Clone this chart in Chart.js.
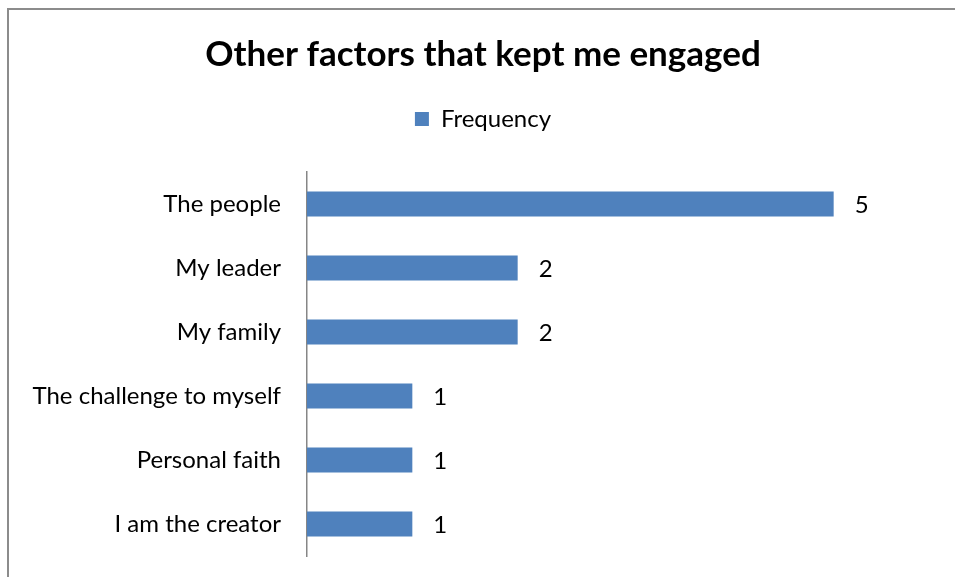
<!DOCTYPE html>
<html>
<head>
<meta charset="utf-8">
<script src="https://cdn.jsdelivr.net/npm/chart.js@4.4.0/dist/chart.umd.min.js"></script>
<style>
  html, body { margin: 0; padding: 0; background: #fff; }
  #wrap { width: 955px; height: 577px; }
</style>
</head>
<body>
<div id="wrap"><canvas id="engChart" width="955" height="577"></canvas></div>
<script>
let factors = ["The people", "My leader", "My family", "The challenge to myself", "Personal faith", "I am the creator"];
let frequency = [5, 2, 2, 1, 1, 1];
let xMin = 0;
let xMax = 6;

const FONT = "Lato, 'Open Sans', sans-serif";

// gray frame round the chart (left and top edges only show)
const framePlugin = {
    id: 'frame',
    beforeDraw(chart) {
        const c = chart.ctx;
        c.save();
        c.strokeStyle = '#8c8c8c';
        c.lineWidth = 2;
        c.beginPath();
        c.moveTo(8, chart.height);
        c.lineTo(8, 9);
        c.lineTo(chart.width, 9);
        c.stroke();
        c.restore();
    }
};

// value labels at bar ends
const valueLabels = {
    id: 'valueLabels',
    afterDatasetsDraw(chart) {
        const c = chart.ctx;
        const meta = chart.getDatasetMeta(0);
        c.save();
        c.fillStyle = '#000';
        c.font = "24px " + FONT;
        c.textAlign = 'center';
        c.textBaseline = 'middle';
        meta.data.forEach((bar, i) => {
            c.fillText(String(chart.data.datasets[0].data[i]), bar.x + 28, bar.y + 1);
        });
        c.restore();
    }
};

var ctx = document.getElementById('engChart');
var engaged = new Chart(ctx, {
    type: 'bar',
    data: {
        labels: factors,
        datasets: [{
            label: "Frequency",
            data: frequency,
            backgroundColor: "#4F81BD",
            borderWidth: 0,
            categoryPercentage: 1,
            barPercentage: 0.39
        }]
    },
    options: {
        indexAxis: 'y',
        responsive: false,
        animation: false,
        layout: { padding: { left: 27, right: 16, top: 0, bottom: 21 } },
        plugins: {
            title: {
                display: true,
                text: 'Other factors that kept me engaged',
                color: '#000',
                font: { family: FONT, size: 35, weight: 'bold' },
                padding: { top: 34, bottom: 21 }
            },
            legend: {
                display: true,
                position: 'top',
                labels: {
                    color: '#000',
                    font: { family: FONT, size: 24 },
                    boxWidth: 14,
                    boxHeight: 14,
                    padding: 10
                }
            },
            tooltip: { enabled: false }
        },
        scales: {
            x: {
                position: 'top',
                min: xMin,
                max: xMax,
                grid: { display: false, drawTicks: false },
                border: { display: false },
                ticks: { display: false },
                // only used as a spacer under the legend
                afterFit(scale) { scale.height = 31; }
            },
            y: {
                grid: { display: false, drawTicks: false },
                border: { display: true, color: '#868686', width: 1.5 },
                ticks: {
                    color: '#000',
                    font: { family: FONT, size: 24 },
                    padding: 26
                },
                afterFit(scale) {
                    scale.width = 280;
                    scale.paddingTop = 0;
                    scale.paddingBottom = 0;
                }
            }
        }
    },
    plugins: [framePlugin, valueLabels]
});
</script>
</body>
</html>
